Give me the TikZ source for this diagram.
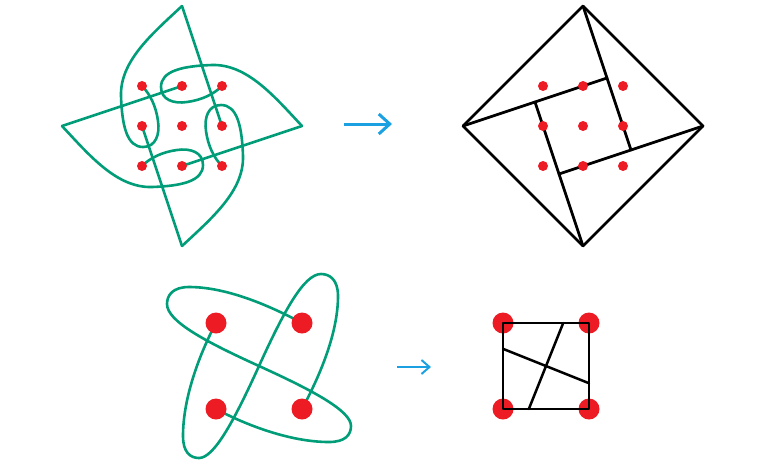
\documentclass[tikz,border=0pt]{standalone}
\usetikzlibrary{calc,arrows.meta}
\definecolor{strand}{RGB}{0,157,120}
\definecolor{dotred}{RGB}{237,28,36}
\definecolor{pointer}{RGB}{27,161,226}
\newcommand{\knotarm}[1]{ % rotation angle
  \begin{scope}[shift={(kc)}, rotate=#1]
    % straight spoke from the tip to a side dot
    \draw[knot] (0,-120) -- (40,0);
    % curl from the tip round a side dot to a corner dot
    \draw[knot] (0,-120) .. controls (-30,-92) and (-62,-65) .. (-61,-30)
      .. controls (-60,0) and (-55,21) .. (-39,21)
      .. controls (-26,21) and (-22,8) .. (-24,-5)
      .. controls (-26,-20) and (-32,-32) .. (-40,-40);
  \end{scope}
}
\newcommand{\linkloop}[1]{ % rotation angle
  \begin{scope}[shift={(lc)}, rotate=#1]
    \draw[knot] (-43,-43) .. controls (-58,-15) and (-76,30) .. (-76,70)
      .. controls (-76,86) and (-69,92) .. (-60,92)
      .. controls (-45,92) and (-25,55) .. (0,0)
      .. controls (25,-55) and (45,-92) .. (62,-92)
      .. controls (71,-92) and (79,-86) .. (79,-70)
      .. controls (79,-30) and (58,15) .. (43,43);
  \end{scope}
}

\begin{document}
\begin{tikzpicture}[x=1pt, y=-1pt]

  % Styles for strands, frames, dots and arrows
  \tikzset{knot/.style={strand, line width=2.6pt, line cap=round, line join=round}}
  \tikzset{frame/.style={black, line width=2.8pt, line cap=round, line join=round}}
  \tikzset{dot/.style={circle, fill=dotred, inner sep=0pt, minimum size=10pt}}
  \tikzset{bigdot/.style={circle, fill=dotred, inner sep=0pt, minimum size=21pt}}
  \tikzset{arrowblue/.style={pointer, line width=3pt, -{Straight Barb[length=11pt, width=20pt]}}}

  \useasboundingbox (0,0) rectangle (762,475);

  % Centres of the four drawings
  \coordinate (kc) at (182,126);
  \coordinate (dc) at (583,126);
  \coordinate (lc) at (259,366);

  % Knot: four arms, one per quarter turn
  \knotarm{0}
  \knotarm{90}
  \knotarm{180}
  \knotarm{270}

  % Grid of dots over the knot
  \node[dot] (k11) at ($(kc)+(-40,-40)$) {};
  \node[dot] (k12) at ($(kc)+(0,-40)$) {};
  \node[dot] (k13) at ($(kc)+(40,-40)$) {};
  \node[dot] (k21) at ($(kc)+(-40,0)$) {};
  \node[dot] (k22) at (kc) {};
  \node[dot] (k23) at ($(kc)+(40,0)$) {};
  \node[dot] (k31) at ($(kc)+(-40,40)$) {};
  \node[dot] (k32) at ($(kc)+(0,40)$) {};
  \node[dot] (k33) at ($(kc)+(40,40)$) {};

  % Diamond with its inner square
  \coordinate (dt) at ($(dc)+(0,-120)$);
  \coordinate (dr) at ($(dc)+(120,0)$);
  \coordinate (db) at ($(dc)+(0,120)$);
  \coordinate (dl) at ($(dc)+(-120,0)$);
  \coordinate (q1) at ($(dc)+(24,-48)$);
  \coordinate (q2) at ($(dc)+(48,24)$);
  \coordinate (q3) at ($(dc)+(-24,48)$);
  \coordinate (q4) at ($(dc)+(-48,-24)$);
  \draw[frame] (dt) -- (dr) -- (db) -- (dl) -- cycle;
  \draw[frame] (dl) -- (q1);
  \draw[frame] (dt) -- (q2);
  \draw[frame] (dr) -- (q3);
  \draw[frame] (db) -- (q4);

  % Grid of dots in the diamond
  \node[dot] (d11) at ($(dc)+(-40,-40)$) {};
  \node[dot] (d12) at ($(dc)+(0,-40)$) {};
  \node[dot] (d13) at ($(dc)+(40,-40)$) {};
  \node[dot] (d21) at ($(dc)+(-40,0)$) {};
  \node[dot] (d22) at (dc) {};
  \node[dot] (d23) at ($(dc)+(40,0)$) {};
  \node[dot] (d31) at ($(dc)+(-40,40)$) {};
  \node[dot] (d32) at ($(dc)+(0,40)$) {};
  \node[dot] (d33) at ($(dc)+(40,40)$) {};

  % Two linked loops
  \linkloop{0}
  \linkloop{90}
  \node[bigdot] (l11) at ($(lc)+(-43,-43)$) {};
  \node[bigdot] (l12) at ($(lc)+(43,-43)$) {};
  \node[bigdot] (l21) at ($(lc)+(-43,43)$) {};
  \node[bigdot] (l22) at ($(lc)+(43,43)$) {};

  % Square with four corner dots
  \node[bigdot] (s1) at (503,323) {};
  \node[bigdot] (s2) at (589,323) {};
  \node[bigdot] (s3) at (589,409) {};
  \node[bigdot] (s4) at (503,409) {};
  \draw[frame, line width=2.5pt] (s1.center) -- (s2.center) -- (s3.center) -- (s4.center) -- cycle;
  \draw[frame, line width=2.5pt] ($(s1.center)!0.7!(s2.center)$) -- ($(s4.center)!0.3!(s3.center)$);
  \draw[frame, line width=2.5pt] ($(s1.center)!0.3!(s4.center)$) -- ($(s2.center)!0.7!(s3.center)$);

  % Arrows between the drawings
  \coordinate (a1) at (344,124);
  \coordinate (b1) at (392,124);
  \coordinate (a2) at (397,367);
  \coordinate (b2) at (431,367);
  \draw[arrowblue] (a1) -- (b1);
  \draw[arrowblue, line width=2pt, -{Straight Barb[length=8pt, width=14pt]}] (a2) -- (b2);

\end{tikzpicture}
\end{document}
